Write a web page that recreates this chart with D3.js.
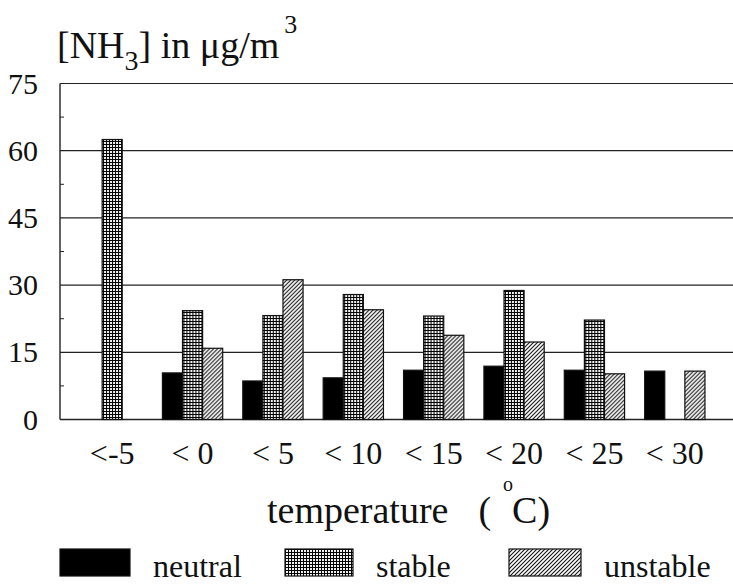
<!DOCTYPE html>
<html>
<head>
<meta charset="utf-8">
<script src="https://cdn.jsdelivr.net/npm/d3@7"></script>
<style>
  html, body { margin: 0; padding: 0; background: #fff; }
  svg { display: block; font-family: "Liberation Serif", "Times New Roman", serif; }
</style>
</head>
<body>
<div id="chart"></div>
<script>
// temperature classes on the x axis
const categories = ["<-5", "< 0", "< 5", "< 10", "< 15", "< 20", "< 25", "< 30"];
const series = ["neutral", "stable", "unstable"];

// [NH3] in ug/m3 per class (null = no bar)
const neutral  = [null, 10.4, 8.6, 9.3, 11.0, 11.9, 11.0, 10.8];
const stable   = [62.5, 24.3, 23.2, 27.9, 23.1, 28.8, 22.2, null];
const unstable = [null, 15.9, 31.2, 24.5, 18.8, 17.3, 10.2, 10.8];

const yTicks = [0, 15, 30, 45, 60, 75];
const yMinorTicks = [7.5, 22.5, 37.5, 52.5, 67.5];

const width = 733, height = 585;
const plotLeft = 60, plotRight = 733;
const serif = "'Liberation Serif', 'Times New Roman', serif";

const values = { neutral, stable, unstable };
const fills = { neutral: "#000", stable: "url(#cross)", unstable: "url(#diag)" };

const svg = d3.select("#chart")
  .append("svg")
  .attr("width", width)
  .attr("height", height);

svg.append("rect").attr("width", width).attr("height", height).attr("fill", "#fff");

// hatch patterns
const defs = svg.append("defs");
const cross = defs.append("pattern")
  .attr("id", "cross")
  .attr("patternUnits", "userSpaceOnUse")
  .attr("width", 3).attr("height", 3);
cross.append("rect").attr("width", 3).attr("height", 3).attr("fill", "#000");
cross.append("rect").attr("x", 1).attr("y", 1).attr("width", 2).attr("height", 2).attr("fill", "#f2f2f2");

const diag = defs.append("pattern")
  .attr("id", "diag")
  .attr("patternUnits", "userSpaceOnUse")
  .attr("width", 4).attr("height", 4);
diag.append("rect").attr("width", 4).attr("height", 4).attr("fill", "#fff");
diag.append("path")
  .attr("d", "M-1,1 l2,-2 M0,4 l4,-4 M3,5 l2,-2")
  .attr("stroke", "#111")
  .attr("stroke-width", 1.1);

const y = d3.scaleLinear().domain([0, 75]).range([419.5, 83.5]);
const x = d3.scaleBand()
  .domain(categories)
  .range([72, 715])
  .paddingInner(0.25)
  .paddingOuter(0.125);
const xs = d3.scaleBand().domain(series).range([0, x.bandwidth()]);

// gridlines + frame
svg.append("g")
  .selectAll("line")
  .data(yTicks)
  .join("line")
  .attr("x1", plotLeft)
  .attr("x2", plotRight)
  .attr("y1", d => y(d))
  .attr("y2", d => y(d))
  .attr("stroke", "#222")
  .attr("stroke-width", d => d === 0 ? 1.6 : 1.2);

svg.append("line")
  .attr("x1", plotLeft).attr("x2", plotLeft)
  .attr("y1", y(75)).attr("y2", y(0))
  .attr("stroke", "#222")
  .attr("stroke-width", 1.4);

svg.append("g")
  .selectAll("line")
  .data(yMinorTicks)
  .join("line")
  .attr("x1", plotLeft)
  .attr("x2", plotLeft + 4)
  .attr("y1", d => y(d))
  .attr("y2", d => y(d))
  .attr("stroke", "#222");

// y axis labels
const yAxis = svg.append("g")
  .attr("transform", `translate(${plotLeft},0)`)
  .call(d3.axisLeft(y).tickValues(yTicks).tickSize(0).tickPadding(22));
yAxis.attr("font-family", serif);
yAxis.select(".domain").remove();
yAxis.selectAll("text")
  .attr("font-size", 30)
  .attr("fill", "#111");

// bars
const rows = categories.map((c, i) => ({
  cat: c,
  bars: series.map(s => ({ key: s, value: values[s][i] })).filter(b => b.value != null)
}));

svg.append("g")
  .selectAll("g")
  .data(rows)
  .join("g")
  .attr("transform", d => `translate(${x(d.cat)},0)`)
  .selectAll("rect")
  .data(d => d.bars)
  .join("rect")
  .attr("x", d => xs(d.key))
  .attr("width", xs.bandwidth())
  .attr("y", d => y(d.value))
  .attr("height", d => y(0) - y(d.value))
  .attr("fill", d => fills[d.key])
  .attr("stroke", "#111")
  .attr("stroke-width", 1.2);

// x axis labels
const xAxis = svg.append("g")
  .attr("transform", `translate(0,${y(0)})`)
  .call(d3.axisBottom(x).tickSize(0));
xAxis.attr("font-family", serif);
xAxis.select(".domain").remove();
xAxis.selectAll("text")
  .attr("y", 44)
  .attr("dy", null)
  .attr("font-size", 32)
  .attr("fill", "#111");

// axis titles
const yTitle = svg.append("text")
  .attr("x", 57)
  .attr("y", 58)
  .attr("font-size", 38)
  .attr("fill", "#111");
yTitle.append("tspan").text("[NH");
yTitle.append("tspan").attr("font-size", 28).attr("dy", 12).text("3");
yTitle.append("tspan").attr("dy", -12).text("] in \u03BCg/m");
yTitle.append("tspan").attr("font-size", 26).attr("dy", -25).attr("dx", 5).text("3");

const xTitle = svg.append("text")
  .attr("x", 267)
  .attr("y", 523)
  .attr("font-size", 38)
  .attr("fill", "#111");
xTitle.append("tspan").text("temperature");
xTitle.append("tspan").attr("dx", 30).text("(");
xTitle.append("tspan").attr("font-size", 20).attr("dx", 12).attr("dy", -32).text("o");
xTitle.append("tspan").attr("dx", -1).attr("dy", 32).text("C)");

// legend
const legendX = [60, 285, 509];
const legendW = [70, 68, 72];
const legend = svg.append("g")
  .selectAll("g")
  .data(series)
  .join("g")
  .attr("transform", (d, i) => `translate(${legendX[i]},549)`);
legend.append("rect")
  .attr("width", (d, i) => legendW[i])
  .attr("height", 27)
  .attr("fill", d => fills[d])
  .attr("stroke", "#111")
  .attr("stroke-width", 1.2);
legend.append("text")
  .attr("x", (d, i) => legendW[i] + 23)
  .attr("y", 28)
  .attr("font-size", 32)
  .attr("fill", "#111")
  .text(d => d);
</script>
</body>
</html>
